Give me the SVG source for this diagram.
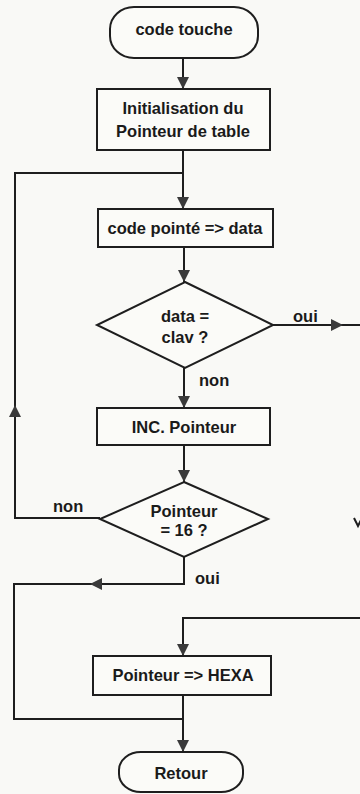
<svg xmlns="http://www.w3.org/2000/svg" width="360" height="794" viewBox="0 0 360 794">
<defs>
<style>
.bg{fill:#f9f9f6}
.shape{fill:#fbfbf8;stroke:#1e1e1e;stroke-width:2}
.ln{fill:none;stroke:#1e1e1e;stroke-width:2}
.t{font-family:"Liberation Sans",Arial,sans-serif;font-size:16.5px;font-weight:bold;fill:#1a1a1a;text-anchor:middle}
.lbl{font-family:"Liberation Sans",Arial,sans-serif;font-size:16.5px;font-weight:bold;fill:#1a1a1a}
</style>
<marker id="arr" markerUnits="userSpaceOnUse" markerWidth="13" markerHeight="12" refX="12" refY="6" orient="auto">
<path d="M0,0 L12,6 L0,12 z" fill="#3a3a3a"/>
</marker>
</defs>
<rect class="bg" x="0" y="0" width="360" height="794"/>
<g id="connectors">
<path class="ln" d="M183,58 V89" marker-end="url(#arr)"/>
<path class="ln" d="M183,150 V209" marker-end="url(#arr)"/>
<path class="ln" d="M184,247 V282" marker-end="url(#arr)"/>
<path class="ln" d="M273,325 H343" marker-end="url(#arr)"/>
<path class="ln" d="M343,325 H360"/>
<text class="lbl" x="293" y="322">oui</text>
<path class="ln" d="M184,368 V408" marker-end="url(#arr)"/>
<text class="lbl" x="199" y="386">non</text>
<path class="ln" d="M184,445 V482" marker-end="url(#arr)"/>
<path class="ln" d="M100,518 H15 V405" marker-end="url(#arr)"/>
<path class="ln" d="M15,405 V173 H183"/>
<text class="lbl" x="53" y="512">non</text>
<path class="ln" d="M184,557 V584 H90" marker-end="url(#arr)"/>
<path class="ln" d="M90,584 H14 V719 H183"/>
<text class="lbl" x="195" y="584">oui</text>
<path class="ln" d="M360,618 H183 V656" marker-end="url(#arr)"/>
<path class="ln" d="M183,695 V752" marker-end="url(#arr)"/>
<polyline class="ln" points="354,518 358,526 362,518"/>
</g>
<g id="start">
<rect class="shape" x="110" y="7" width="148" height="51" rx="24" ry="22"/>
<text class="t" x="184" y="35">code touche</text>
</g>
<g id="init">
<rect class="shape" x="97" y="89" width="173" height="61"/>
<text class="t" x="183" y="114">Initialisation du</text>
<text class="t" x="183" y="137">Pointeur de table</text>
</g>
<g id="code-pointe">
<rect class="shape" x="98" y="209" width="175" height="38"/>
<text class="t" x="185" y="234">code pointé =&gt; data</text>
</g>
<g id="test-clav">
<polygon class="shape" points="185,282 273,325 185,368 97,325"/>
<text class="t" x="185" y="322">data =</text>
<text class="t" x="185" y="343">clav ?</text>
</g>
<g id="inc">
<rect class="shape" x="97" y="408" width="173" height="37"/>
<text class="t" x="184" y="433">INC. Pointeur</text>
</g>
<g id="test-16">
<polygon class="shape" points="184,482 268,519 184,557 100,519"/>
<text class="t" x="184" y="517">Pointeur</text>
<text class="t" x="184" y="536">= 16 ?</text>
</g>
<g id="hexa">
<rect class="shape" x="93" y="656" width="178" height="39"/>
<text class="t" x="183" y="681">Pointeur =&gt; HEXA</text>
</g>
<g id="retour">
<rect class="shape" x="119" y="752" width="124" height="40" rx="22" ry="18"/>
<text class="t" x="181" y="779">Retour</text>
</g>
</svg>
